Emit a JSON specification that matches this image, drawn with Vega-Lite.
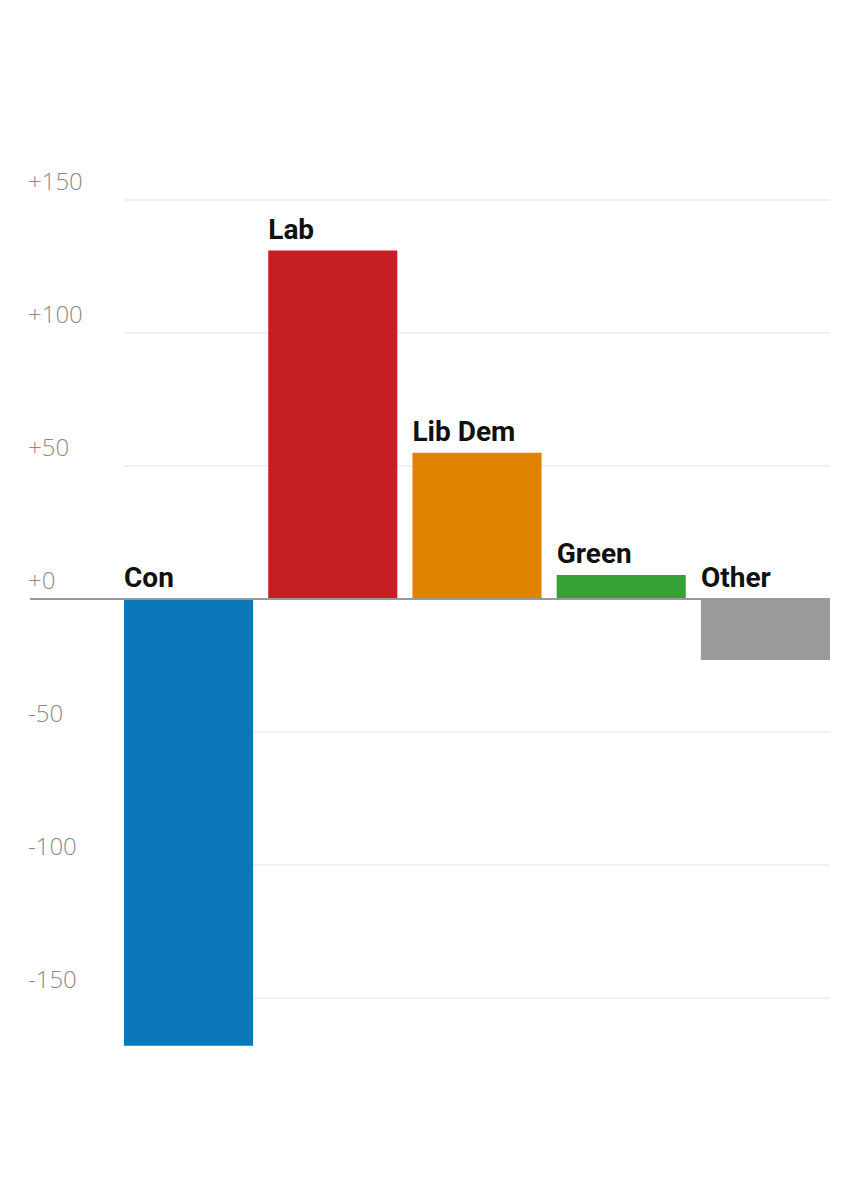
{
  "$schema": "https://vega.github.io/schema/vega-lite/v6.json",
  "width": 800,
  "height": 851,
  "autosize": "none",
  "padding": {"left": 30, "top": 200, "right": 29, "bottom": 149},
  "background": "white",
  "config": {"view": {"stroke": null}, "font": "Roboto"},
  "data": {
    "values": [
      {"party": "Con", "change": -168, "color": "#0a77b8"},
      {"party": "Lab", "change": 131, "color": "#c71e26"},
      {"party": "Lib Dem", "change": 55, "color": "#e08100"},
      {"party": "Green", "change": 9, "color": "#36a236"},
      {"party": "Other", "change": -23, "color": "#9a9a9a"}
    ]
  },
  "transform": [{"calculate": "max(datum.change, 0)", "as": "labelY"}],
  "layer": [
    {
      "mark": {"type": "bar"},
      "encoding": {
        "x": {
          "field": "party", "type": "nominal", "sort": null, "axis": null,
          "scale": {"range": [94, 800], "paddingInner": 0.105, "paddingOuter": 0}
        },
        "y": {
          "field": "change", "type": "quantitative",
          "scale": {"domain": [-170, 150], "nice": false, "zero": true},
          "axis": {
            "title": null, "values": [-150, -100, -50, 0, 50, 100, 150],
            "domain": false, "ticks": false, "tickSize": 0,
            "gridColor": "#e3e3e3", "gridWidth": 1.2,
            "labelAlign": "left", "labelBaseline": "bottom", "labelPadding": 2,
            "labelOffset": -5, "labelFontSize": 24, "labelColor": "#8a8a8a",
            "labelFont": "Open Sans", "labelFontWeight": 300,
            "translate": 0,
            "labelExpr": "datum.value >= 0 ? '+' + datum.value : '' + datum.value"
          }
        },
        "color": {"field": "color", "type": "nominal", "scale": null, "legend": null}
      }
    },
    {
      "mark": {"type": "rule", "color": "#9a9a9a", "strokeWidth": 1.5},
      "encoding": {"y": {"datum": 0, "type": "quantitative"}}
    },
    {
      "mark": {"type": "text", "align": "left", "baseline": "bottom", "dy": -6, "fontSize": 28, "fontWeight": "bold", "font": "Roboto", "color": "#111"},
      "encoding": {
        "x": {"field": "party", "type": "nominal", "sort": null, "bandPosition": 0},
        "y": {"field": "labelY", "type": "quantitative"},
        "text": {"field": "party"}
      }
    }
  ]
}
